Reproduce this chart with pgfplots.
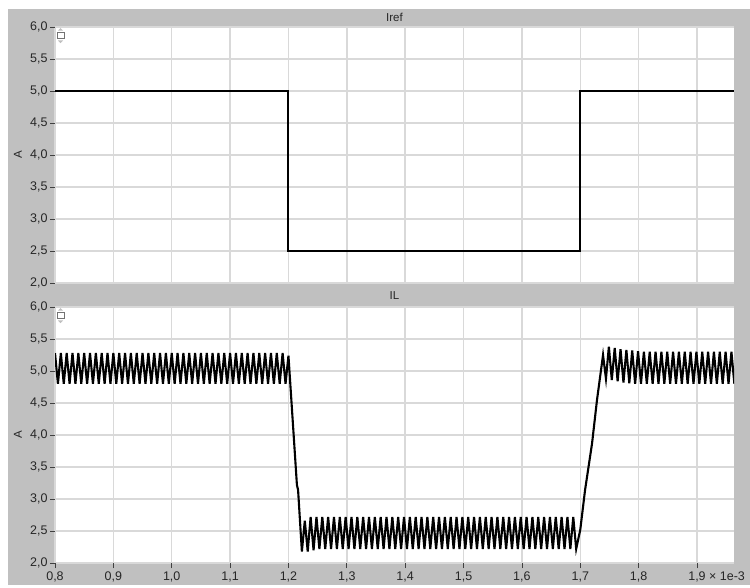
\documentclass[border=0pt]{standalone}
\usepackage{fontspec}
\setmainfont{Liberation Sans}
\usepackage{pgfplots}
\pgfplotsset{compat=1.18}
\definecolor{bg}{HTML}{C0C0C0}
\definecolor{gridc}{HTML}{D9D9D9}
\pgfplotsset{
  panel/.style={
    scale only axis, width=679pt, height=256pt,
    xmin=0.8, xmax=1.9634, ymin=2, ymax=6,
    axis line style={draw=none},
    axis background/.style={fill=white},
    grid=major, major grid style={gridc, line width=1.4pt},
    xtick={0.8,0.9,1.0,1.1,1.2,1.3,1.4,1.5,1.6,1.7,1.8,1.9},
    ytick={2,2.5,3,3.5,4,4.5,5,5.5,6},
    yticklabels={{2,0},{2,5},{3,0},{3,5},{4,0},{4,5},{5,0},{5,5},{6,0}},
    xtick pos=bottom, ytick pos=left,
    tick align=outside, major tick length=5pt,
    tick style={black!75, line width=0.8pt},
    ticklabel style={font=\fontsize{12.5}{14}\selectfont, text=black!85},
    yticklabel style={xshift=1pt},
    clip=true,
  }
}
\begin{document}
\begin{tikzpicture}[x=1pt,y=1pt]
\fill[white] (0,0) rectangle (750,587);
\fill[bg] (8,2) rectangle (750,578);

% top panel: Iref
\begin{axis}[panel, at={(55pt,304pt)}, anchor=south west,
  xticklabels={}, xtick style={draw=none}]
\addplot[black, line width=2pt] coordinates {(0.8,5)(1.2,5)(1.2,2.5)(1.7,2.5)(1.7,5)(1.9634,5)};
\end{axis}

% bottom panel: IL
\begin{axis}[panel, at={(55pt,24pt)}, anchor=south west,
  xticklabels={{0,8},{0,9},{1,0},{1,1},{1,2},{1,3},{1,4},{1,5},{1,6},{1,7},{1,8},{1,9\rlap{~×~1e-3}}}]
\addplot[black, line width=2.1pt, line join=miter] coordinates {
(0.800,5.28)(0.805,4.80)(0.810,5.28)(0.815,4.80)(0.820,5.28)(0.825,4.80)(0.830,5.28)(0.835,4.80)(0.840,5.28)(0.845,4.80)
(0.850,5.28)(0.855,4.80)(0.860,5.28)(0.865,4.80)(0.870,5.28)(0.875,4.80)(0.880,5.28)(0.885,4.80)(0.890,5.28)(0.895,4.80)
(0.900,5.28)(0.905,4.80)(0.910,5.28)(0.915,4.80)(0.920,5.28)(0.925,4.80)(0.930,5.28)(0.935,4.80)(0.940,5.28)(0.945,4.80)
(0.950,5.28)(0.955,4.80)(0.960,5.28)(0.965,4.80)(0.970,5.28)(0.975,4.80)(0.980,5.28)(0.985,4.80)(0.990,5.28)(0.995,4.80)
(1.000,5.28)(1.005,4.80)(1.010,5.28)(1.015,4.80)(1.020,5.28)(1.025,4.80)(1.030,5.28)(1.035,4.80)(1.040,5.28)(1.045,4.80)
(1.050,5.28)(1.055,4.80)(1.060,5.28)(1.065,4.80)(1.070,5.28)(1.075,4.80)(1.080,5.28)(1.085,4.80)(1.090,5.28)(1.095,4.80)
(1.100,5.28)(1.105,4.80)(1.110,5.28)(1.115,4.80)(1.120,5.28)(1.125,4.80)(1.130,5.28)(1.135,4.80)(1.140,5.28)(1.145,4.80)
(1.150,5.28)(1.155,4.80)(1.160,5.28)(1.165,4.80)(1.170,5.28)(1.175,4.80)(1.180,5.28)(1.185,4.80)(1.190,5.28)(1.195,4.80)
(1.200,5.24)(1.2145,3.22)(1.2165,3.14)(1.2230,2.18)
(1.228,2.66)(1.233,2.18)(1.238,2.72)(1.243,2.20)(1.248,2.72)(1.253,2.22)(1.258,2.72)(1.263,2.22)(1.268,2.72)(1.273,2.22)
(1.278,2.72)(1.283,2.22)(1.288,2.72)(1.293,2.22)(1.298,2.72)(1.303,2.22)(1.308,2.72)(1.313,2.22)(1.318,2.72)(1.323,2.22)
(1.328,2.72)(1.333,2.22)(1.338,2.72)(1.343,2.22)(1.348,2.72)(1.353,2.22)(1.358,2.72)(1.363,2.22)(1.368,2.72)(1.373,2.22)
(1.378,2.72)(1.383,2.22)(1.388,2.72)(1.393,2.22)(1.398,2.72)(1.403,2.22)(1.408,2.72)(1.413,2.22)(1.418,2.72)(1.423,2.22)
(1.428,2.72)(1.433,2.22)(1.438,2.72)(1.443,2.22)(1.448,2.72)(1.453,2.22)(1.458,2.72)(1.463,2.22)(1.468,2.72)(1.473,2.22)
(1.478,2.72)(1.483,2.22)(1.488,2.72)(1.493,2.22)(1.498,2.72)(1.503,2.22)(1.508,2.72)(1.513,2.22)(1.518,2.72)(1.523,2.22)
(1.528,2.72)(1.533,2.22)(1.538,2.72)(1.543,2.22)(1.548,2.72)(1.553,2.22)(1.558,2.72)(1.563,2.22)(1.568,2.72)(1.573,2.22)
(1.578,2.72)(1.583,2.22)(1.588,2.72)(1.593,2.22)(1.598,2.72)(1.603,2.22)(1.608,2.72)(1.613,2.22)(1.618,2.72)(1.623,2.22)
(1.628,2.72)(1.633,2.22)(1.638,2.72)(1.643,2.22)(1.648,2.72)(1.653,2.22)(1.658,2.72)(1.663,2.22)(1.668,2.72)(1.673,2.22)
(1.678,2.72)(1.683,2.22)(1.688,2.72)(1.693,2.22)
(1.700,2.52)(1.7082,3.14)(1.7202,3.87)(1.7287,4.55)(1.739,5.25)
(1.744,4.88)(1.749,5.38)(1.754,4.86)(1.759,5.36)(1.764,4.84)(1.769,5.34)(1.774,4.82)(1.779,5.33)(1.784,4.81)(1.789,5.32)
(1.794,4.80)(1.799,5.31)(1.804,4.80)(1.809,5.30)(1.814,4.80)(1.819,5.30)(1.824,4.80)(1.829,5.30)(1.834,4.80)(1.839,5.30)
(1.844,4.80)(1.849,5.30)(1.854,4.80)(1.859,5.30)(1.864,4.80)(1.869,5.30)(1.874,4.80)(1.879,5.30)(1.884,4.80)(1.889,5.30)
(1.894,4.80)(1.899,5.30)(1.904,4.80)(1.909,5.30)(1.914,4.80)(1.919,5.30)(1.924,4.80)(1.929,5.30)(1.934,4.80)(1.939,5.30)
(1.944,4.80)(1.949,5.30)(1.954,4.80)(1.959,5.30)(1.964,4.80)
};
\end{axis}

% titles and axis labels
\node[font=\fontsize{11.5}{13}\selectfont, text=black!85] at (394.5,569.5) {Iref};
\node[font=\fontsize{11.5}{13}\selectfont, text=black!85] at (394.5,291) {IL};
\node[font=\fontsize{11.5}{13}\selectfont, text=black!85, rotate=90] at (18,432) {A};
\node[font=\fontsize{11.5}{13}\selectfont, text=black!85, rotate=90] at (18,152) {A};

% small scale icons
\foreach \dy in {0,280} {
  \draw[black!55, line width=0.7pt] (57,548.2-\dy) rectangle (64,554.6-\dy);
  \fill[black!25] (58,556.3-\dy) -- (63,556.3-\dy) -- (60.5,559-\dy) -- cycle;
  \fill[black!25] (58,546.5-\dy) -- (63,546.5-\dy) -- (60.5,543.8-\dy) -- cycle;
}
\pgfresetboundingbox
\useasboundingbox (0,0) rectangle (750,587);
\end{tikzpicture}
\end{document}
